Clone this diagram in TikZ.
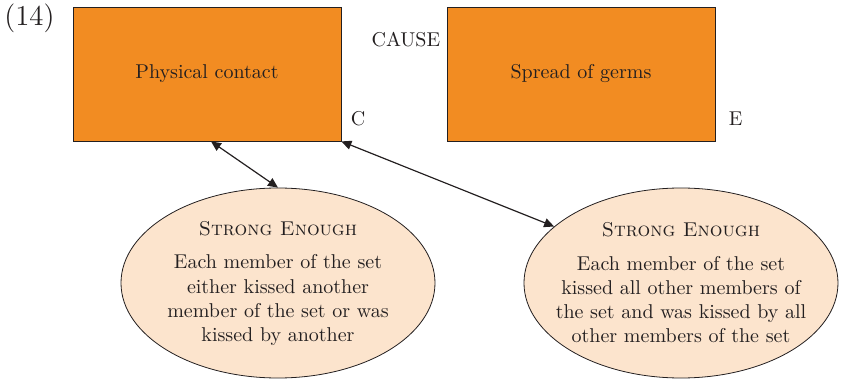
\documentclass[tikz,border=0pt]{standalone}
\usepackage{tikz}
\usetikzlibrary{arrows.meta, shapes.geometric, calc}
\usepackage{xcolor}
\definecolor{boxorange}{RGB}{242,140,34}
\definecolor{peach}{RGB}{252,228,205}
\definecolor{inkgray}{RGB}{35,31,32}

\begin{document}
\begin{tikzpicture}[x=0.5pt, y=-0.5pt,
    event/.style={draw=inkgray, fill=boxorange, minimum width=134pt, minimum height=67pt, inner sep=0pt, font=\normalsize, text=inkgray},
    reading/.style={draw=inkgray, fill=peach, ellipse, minimum width=157pt, minimum height=95pt, inner xsep=-12pt, inner ysep=-4pt, align=center, font=\normalsize, text=inkgray},
    tag/.style={inner sep=1pt, text=inkgray},
    link/.style={{Triangle[length=5pt,width=4.5pt]}-{Triangle[length=5pt,width=4.5pt]}, draw=inkgray, semithick}]
  \useasboundingbox (0,0) rectangle (843,380);
  \node[tag, anchor=west, font=\Large] (num) at (2,18) {(14)};
  % cause and effect boxes
  \node[event] (pc) at (207,74) {Physical contact};
  \node[event] (sg) at (581,74) {Spread of germs};
  \node[tag, anchor=east] (cause) at ([xshift=-2pt, yshift=17pt]sg.west) {CAUSE};
  \node[tag, anchor=west] (cl) at ([xshift=3.5pt, yshift=11.5pt]pc.south east) {C};
  \node[tag, anchor=west] (el) at ([xshift=5.5pt, yshift=11.5pt]sg.south east) {E};
  % readings of the plural subject
  \node[reading] (se1) at (278,283) {\textsc{Strong Enough}\\[5pt]
    Each member of the set\\ either kissed another\\ member of the set or was\\ kissed by another};
  \node[reading] (se2) at (681,283) {\textsc{Strong Enough}\\[5pt]
    Each member of the set\\ kissed all other members of\\ the set and was kissed by all\\ other members of the set};
  \draw[link] ([xshift=2pt]pc.south) -- (se1.north);
  \draw[link] (pc.south east) -- (se2.156);
\end{tikzpicture}
\end{document}
